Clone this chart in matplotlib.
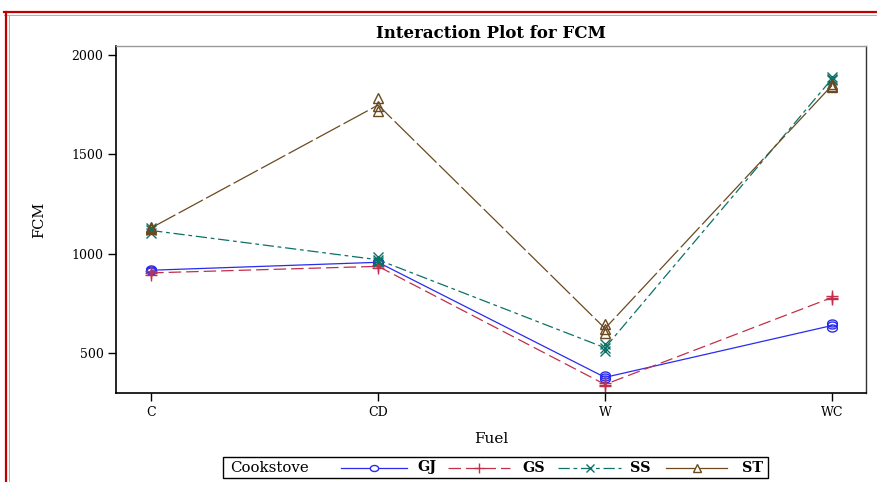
import matplotlib
matplotlib.use("Agg")
import matplotlib.pyplot as plt
from matplotlib.lines import Line2D
from matplotlib.patches import Rectangle
from matplotlib.path import Path
import numpy as np

plt.rcParams['font.family'] = ['DejaVu Serif', 'Liberation Serif']

# Fuel levels on the x axis
fuels = ["C", "CD", "W", "WC"]
cookstoves = ["GJ", "GS", "SS", "ST"]

# FCM replicate observations per cookstove, one list per fuel level
gj = [[912, 918, 922], [952, 958, 962], [368, 378, 390], [626, 640, 652]]
gs = [[895, 905, 912], [930, 937, 944], [335, 342, 352], [772, 780, 788]]
ss = [[1106, 1118, 1128], [958, 968, 984], [512, 525, 545], [1872, 1880, 1888]]
st = [[1124, 1130, 1136], [1716, 1742, 1786], [602, 624, 648], [1838, 1846, 1856]]

y_ticks = [500, 1000, 1500, 2000]

# wide open ellipse used as the circle symbol
t = np.linspace(0, 2 * np.pi, 41)
ellipse = Path(np.column_stack([np.cos(t), 0.72 * np.sin(t)]), closed=True)

series = {"GJ": gj, "GS": gs, "SS": ss, "ST": st}
colors = {"GJ": "#2b2bf0", "GS": "#c0304a", "SS": "#0a7266", "ST": "#6b4a1f"}
markers = {"GJ": ellipse, "GS": "+", "SS": "x", "ST": "^"}
msizes = {"GJ": 7, "GS": 8, "SS": 7, "ST": 7}
styles = {"GJ": "-", "GS": (0, (10, 4)), "SS": (0, (9, 3, 3, 3)), "ST": (0, (22, 3))}

W, H = 877, 482
fig = plt.figure(figsize=(W / 100, H / 100), dpi=100)
ax = fig.add_axes([116 / W, 1 - 393 / H, (866 - 116) / W, (393 - 46) / H])

x = np.arange(len(fuels))
for name in cookstoves:
    data = series[name]
    means = [np.mean(v) for v in data]
    ax.plot(x, means, color=colors[name], linestyle=styles[name], lw=0.9)
    for xi, vals in zip(x, data):
        ax.plot([xi] * len(vals), vals, linestyle="none", marker=markers[name],
                ms=msizes[name], mew=1.0, mfc="none", mec=colors[name])

ax.set_xlim(-0.155, 3.15)
ax.set_ylim(300, 2045)
ax.set_xticks(x)
ax.set_xticklabels(fuels)
ax.set_yticks(y_ticks)
ax.tick_params(labelsize=9, length=6, width=1.0, color="black", pad=3)
for s in ["left", "bottom"]:
    ax.spines[s].set_linewidth(1.2)
    ax.spines[s].set_color("black")
ax.spines["top"].set_color("#9a9a9a")
ax.spines["top"].set_linewidth(1.0)
ax.spines["right"].set_color("#333333")
ax.spines["right"].set_linewidth(1.0)

ax.set_title("Interaction Plot for FCM", fontsize=12, fontweight="bold", pad=6)
ax.set_xlabel("Fuel", fontsize=11, labelpad=10)
ax.set_ylabel("FCM", fontsize=10.5, labelpad=18)


def fx(px):
    return px / W


def fy(py):
    return 1 - py / H


# Page border along the top and left edges
fig.add_artist(Line2D([fx(4), fx(877)], [fy(12), fy(12)], color="#c00000", lw=1.6))
fig.add_artist(Line2D([fx(4), fx(877)], [fy(14.5), fy(14.5)], color="#b0b0b0", lw=0.7))
fig.add_artist(Line2D([fx(6), fx(6)], [fy(12), fy(482)], color="#c00000", lw=1.6))
fig.add_artist(Line2D([fx(8.5), fx(8.5)], [fy(14.5), fy(482)], color="#b0b0b0", lw=0.7))

# Legend strip below the plot
fig.add_artist(Rectangle((fx(223), fy(478)), fx(768) - fx(223), fy(457) - fy(478),
                         fill=False, edgecolor="black", lw=1.0, transform=fig.transFigure))
ly = fy(467.5)
fig.text(fx(230), ly, "Cookstove", fontsize=10.8, va="center", ha="left")
legend_spans = {"GJ": (341, 407, 417), "GS": (448, 510, 522),
                "SS": (558, 621, 630), "ST": (666, 727, 742)}
for name in cookstoves:
    a, b, tx = legend_spans[name]
    fig.add_artist(Line2D([fx(a), fx(b)], [ly, ly], color=colors[name],
                          linestyle=styles[name] if name != "ST" else "-", lw=0.9))
    fig.add_artist(Line2D([fx((a + b) / 2)], [ly], marker=markers[name], ms=msizes[name] - 1,
                          mfc="white", mec=colors[name], mew=1.0, linestyle="none"))
    fig.text(fx(tx), ly, name, fontsize=10.3, fontweight="bold", va="center", ha="left")

fig.savefig("out.png", dpi=100)
